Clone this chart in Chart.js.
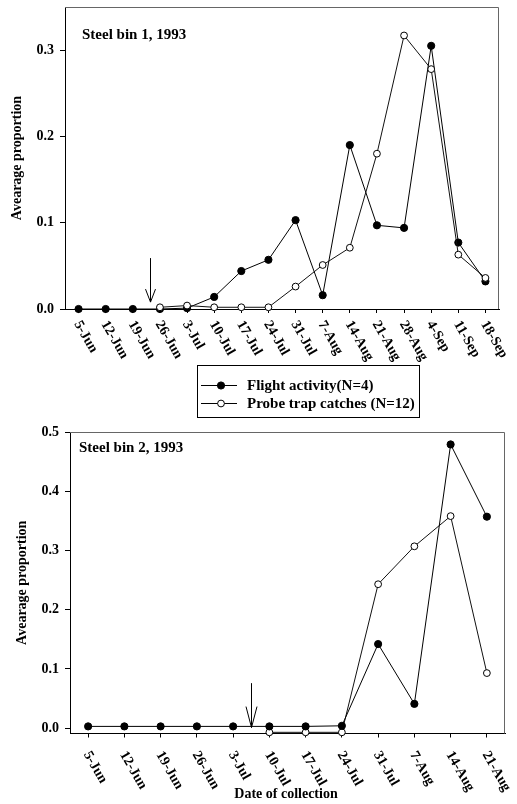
<!DOCTYPE html>
<html>
<head>
<meta charset="utf-8">
<script src="https://cdn.jsdelivr.net/npm/chart.js@4.4.1/dist/chart.umd.min.js"></script>
<style>
  html, body { margin: 0; padding: 0; background: #fff; }
  body { width: 517px; height: 804px; position: relative; overflow: hidden; }
  canvas { position: absolute; left: 0; }
  #bin1 { top: 0; }
  #bin2 { top: 420px; }
</style>
</head>
<body>
<canvas id="bin1" width="517" height="420"></canvas>
<canvas id="bin2" width="517" height="384"></canvas>
<script>
// Steel bin 1, 1993
const dates1 = ["5-Jun", "12-Jun", "19-Jun", "26-Jun", "3-Jul", "10-Jul", "17-Jul", "24-Jul",
  "31-Jul", "7-Aug", "14-Aug", "21-Aug", "28-Aug", "4-Sep", "11-Sep", "18-Sep"];
const flight1 = [0, 0, 0, 0, 0.001, 0.014, 0.044, 0.057, 0.103, 0.016, 0.19, 0.097, 0.094, 0.305, 0.077, 0.032];
const probe1 = [null, null, null, 0.002, 0.004, 0.002, 0.002, 0.002, 0.026, 0.051, 0.071, 0.18, 0.317, 0.278, 0.063, 0.036];
const yTicks1 = [0, 0.1, 0.2, 0.3];

// Steel bin 2, 1993
const dates2 = ["5-Jun", "12-Jun", "19-Jun", "26-Jun", "3-Jul", "10-Jul", "17-Jul", "24-Jul",
  "31-Jul", "7-Aug", "14-Aug", "21-Aug"];
const flight2 = [0.003, 0.003, 0.003, 0.003, 0.003, 0.003, 0.003, 0.004, 0.142, 0.041, 0.479, 0.357];
const probe2 = [null, null, null, null, null, -0.007, -0.007, -0.007, 0.243, 0.307, 0.358, 0.093];
const yTicks2 = [0, 0.1, 0.2, 0.3, 0.4, 0.5];

const seriesNames = ["Flight activity(N=4)", "Probe trap catches (N=12)"];

const SERIF = '"Liberation Serif", "DejaVu Serif", serif';
Chart.defaults.font.family = SERIF;
Chart.defaults.font.weight = "bold";
Chart.defaults.font.size = 14;
Chart.defaults.color = "#000";

function flightDs(data, order) {
  return {
    label: seriesNames[0], data, order, clip: false,
    borderColor: "#000", borderWidth: 1,
    pointBackgroundColor: "#000", pointBorderColor: "#000",
    pointRadius: 3.6, pointBorderWidth: 1, tension: 0
  };
}
function probeDs(data, order) {
  return {
    label: seriesNames[1], data, order, clip: false,
    borderColor: "#111", borderWidth: 1,
    pointBackgroundColor: "#fff", pointBorderColor: "#000",
    pointRadius: 3.4, pointBorderWidth: 1, tension: 0
  };
}

// rotated date labels (they run down to the right), frame, title, arrow, legend
const extras = {
  id: "extras",
  afterDraw(chart, args, o) {
    const ctx = chart.ctx, xs = chart.scales.x, ys = chart.scales.y, a = chart.chartArea;
    ctx.save();
    // frame top / right
    ctx.strokeStyle = "#666";
    ctx.lineWidth = 1;
    ctx.beginPath();
    ctx.moveTo(a.left, a.top + 0.5);
    ctx.lineTo(a.right - 0.5, a.top + 0.5);
    ctx.lineTo(a.right - 0.5, a.bottom);
    ctx.stroke();

    ctx.fillStyle = "#000";
    ctx.font = "bold 14px " + SERIF;
    ctx.textAlign = "left";
    ctx.textBaseline = "middle";
    chart.data.labels.forEach((lab, i) => {
      ctx.save();
      ctx.translate(xs.getPixelForTick(i) + o.labelDx, xs.top + o.labelDy);
      ctx.rotate(Math.PI / 3);
      ctx.fillText(lab, 0, 0);
      ctx.restore();
    });

    // panel title
    ctx.font = "bold 15px " + SERIF;
    ctx.fillText(o.title, a.left + o.titleDx, a.top + o.titleDy);

    // arrow
    const ax = Math.round(xs.getPixelForValue(o.arrow.at)) + 0.5;
    const y0 = ys.getPixelForValue(o.arrow.from), y1 = ys.getPixelForValue(o.arrow.to);
    ctx.strokeStyle = "#000";
    ctx.beginPath();
    ctx.moveTo(ax, y0); ctx.lineTo(ax, y1);
    ctx.moveTo(ax - o.arrow.head[0], y1 - o.arrow.head[1]); ctx.lineTo(ax, y1);
    ctx.lineTo(ax + o.arrow.head[0], y1 - o.arrow.head[1]);
    ctx.stroke();

    // x-axis title
    if (o.xTitle) {
      ctx.textAlign = "center";
      ctx.font = "bold 14px " + SERIF;
      ctx.fillText(o.xTitle, o.xTitleAt[0], o.xTitleAt[1]);
      ctx.textAlign = "left";
    }

    // legend box
    if (o.legend) {
      const L = o.legend;
      ctx.strokeStyle = "#000";
      ctx.strokeRect(L.x + 0.5, L.y + 0.5, L.w, L.h);
      ctx.font = "bold 15px " + SERIF;
      L.rows.forEach((ry, i) => {
        const ds = chart.data.datasets.find(d => d.label === seriesNames[i]);
        ctx.strokeStyle = "#000";
        ctx.beginPath();
        ctx.moveTo(L.x + 4, L.y + ry + 0.5);
        ctx.lineTo(L.x + 40, L.y + ry + 0.5);
        ctx.stroke();
        ctx.beginPath();
        ctx.arc(L.x + 24, L.y + ry + 0.5, ds.pointRadius, 0, Math.PI * 2);
        ctx.fillStyle = ds.pointBackgroundColor;
        ctx.fill();
        ctx.stroke();
        ctx.fillStyle = "#000";
        ctx.fillText(ds.label, L.x + 50, L.y + ry + 1);
      });
    }
    ctx.restore();
  }
};

function makeChart(id, labels, datasets, cfg) {
  return new Chart(document.getElementById(id), {
    type: "line",
    data: { labels, datasets },
    plugins: [extras],
    options: {
      responsive: false,
      animation: false,
      layout: { padding: { top: cfg.padTop, right: cfg.padRight, left: 0, bottom: 0 } },
      plugins: { legend: { display: false }, tooltip: { enabled: false }, extras: cfg.extras },
      scales: {
        x: {
          type: "category",
          offset: true,
          grid: { drawOnChartArea: false, tickLength: 4, color: "#000" },
          border: { color: "#000", width: 1 },
          ticks: { display: false },
          afterFit: s => { s.height = cfg.xHeight; s.paddingLeft = 0; s.paddingRight = 0; }
        },
        y: {
          min: cfg.yMin, max: cfg.yMax,
          grid: { drawOnChartArea: false, tickLength: 5, color: "#000" },
          border: { color: "#000", width: 1 },
          ticks: { padding: 6, font: { size: 14, weight: "bold" }, callback: v => v.toFixed(1) },
          afterBuildTicks: s => { s.ticks = cfg.yTicks.map(v => ({ value: v })); },
          title: { display: true, text: "Avearage proportion", font: { size: 14, weight: "bold" }, padding: { top: cfg.yTitlePad } },
          afterFit: s => { s.width = cfg.yWidth; s.paddingTop = 0; s.paddingBottom = 0; }
        }
      }
    }
  });
}

makeChart("bin1", dates1, [flightDs(flight1, 1), probeDs(probe1, 0)], {
  padTop: 7, padRight: 18, xHeight: 111, yWidth: 65, yMin: 0, yMax: 0.35, yTicks: yTicks1, yTitlePad: 9,
  extras: {
    title: "Steel bin 1, 1993", titleDx: 17, titleDy: 28,
    labelDx: -1.5, labelDy: 13,
    arrow: { at: 2.65, from: 0.059, to: 0.008, head: [5, 13] },
    legend: { x: 197, y: 365, w: 222, h: 52, rows: [20, 38] }
  }
});

makeChart("bin2", dates2, [flightDs(flight2, 0), probeDs(probe2, 1)], {
  padTop: 12, padRight: 12, xHeight: 70.5, yWidth: 70, yMin: -0.009, yMax: 0.5, yTicks: yTicks2, yTitlePad: 14,
  extras: {
    title: "Steel bin 2, 1993", titleDx: 9, titleDy: 16,
    labelDx: -1.5, labelDy: 19,
    arrow: { at: 4.5, from: 0.076, to: 0.001, head: [5.5, 21] },
    xTitle: "Date of collection", xTitleAt: [286, 374]
  }
});
</script>
</body>
</html>
